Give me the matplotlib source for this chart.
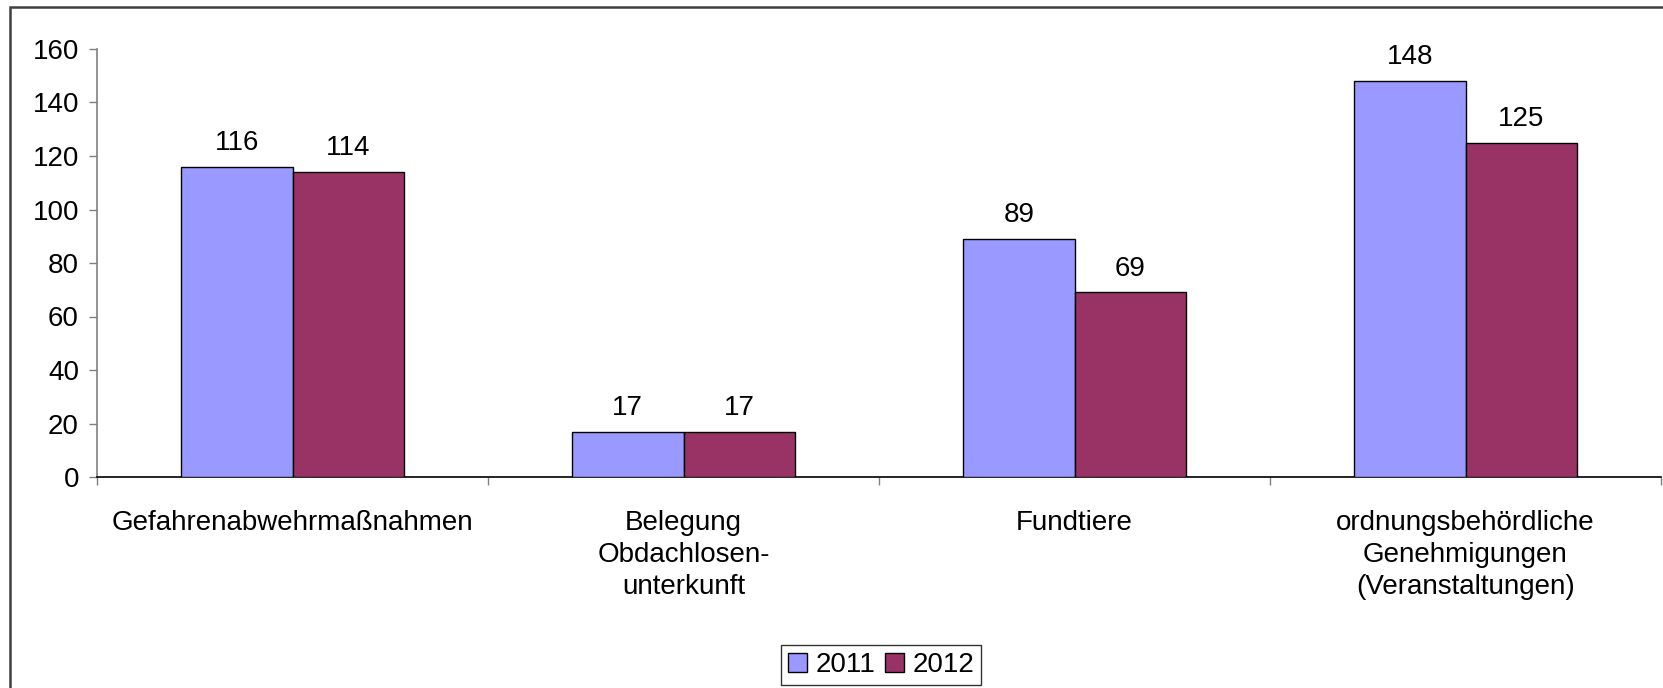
import matplotlib
matplotlib.use("Agg")
import matplotlib.pyplot as plt
import matplotlib.patches as mpatches
from matplotlib.ticker import FixedLocator
import numpy as np

categories = ["Gefahrenabwehrmaßnahmen", "Belegung\nObdachlosen-\nunterkunft", "Fundtiere",
              "ordnungsbehördliche\nGenehmigungen\n(Veranstaltungen)"]
series_names = ["2011", "2012"]
values_2011 = [116, 17, 89, 148]
values_2012 = [114, 17, 69, 125]
yticks = [0, 20, 40, 60, 80, 100, 120, 140, 160]

colors = ["#9999FF", "#993366"]
plt.rcParams['font.family'] = ['Liberation Sans', 'DejaVu Sans']
FS = 20

W, H = 1663, 688
fig = plt.figure(figsize=(W / 100, H / 100), dpi=100)
ax = fig.add_axes([97 / W, 1 - 477 / H, (1661 - 97) / W, (477 - 49) / H])

x = np.arange(len(categories))
bw = 0.285
for i, (vals, name, c) in enumerate(zip([values_2011, values_2012], series_names, colors)):
    pos = x + (i - 0.5) * bw
    bars = ax.bar(pos, vals, width=bw, color=c, edgecolor="black", linewidth=1.0, label=name, zorder=3)
    for b, v in zip(bars, vals):
        ax.annotate(str(v), (b.get_x() + b.get_width() / 2, v), xytext=(0, 17),
                    textcoords="offset points", ha="center", va="center", fontsize=FS)

ax.set_xlim(-0.5, len(categories) - 0.5)
ax.set_ylim(0, 160)
ax.set_yticks(yticks)
ax.set_xticks(x)
ax.set_xticklabels(categories, fontsize=FS, linespacing=1.3)
ax.xaxis.set_minor_locator(FixedLocator(np.arange(-0.5, len(categories), 1.0)))
ax.tick_params(axis="x", which="major", length=0, pad=24)
ax.tick_params(axis="x", which="minor", length=6, width=1, color="#808080", direction="out")
ax.tick_params(axis="y", length=6, width=1, color="#808080", labelsize=FS, pad=7)
for s in ["top", "right"]:
    ax.spines[s].set_visible(False)
ax.spines["left"].set_color("#808080")
ax.spines["left"].set_linewidth(1.2)
ax.spines["bottom"].set_color("black")
ax.spines["bottom"].set_linewidth(1.2)

leg = fig.legend(loc="center", bbox_to_anchor=(881 / W, 1 - 665 / H), ncol=2, fontsize=FS,
                 frameon=True, fancybox=False, edgecolor="black", handlelength=0.7,
                 handleheight=0.7, handletextpad=0.3, columnspacing=0.35, borderpad=0.25,
                 borderaxespad=0)
leg.get_frame().set_linewidth(1.0)

frame = mpatches.Rectangle((10 / W, -0.1), 1.2, 1.1 - 7 / H, transform=fig.transFigure,
                           fill=False, edgecolor="#404040", linewidth=1.8, clip_on=False)
fig.patches.append(frame)

fig.savefig("out.png", dpi=100, facecolor="white")
